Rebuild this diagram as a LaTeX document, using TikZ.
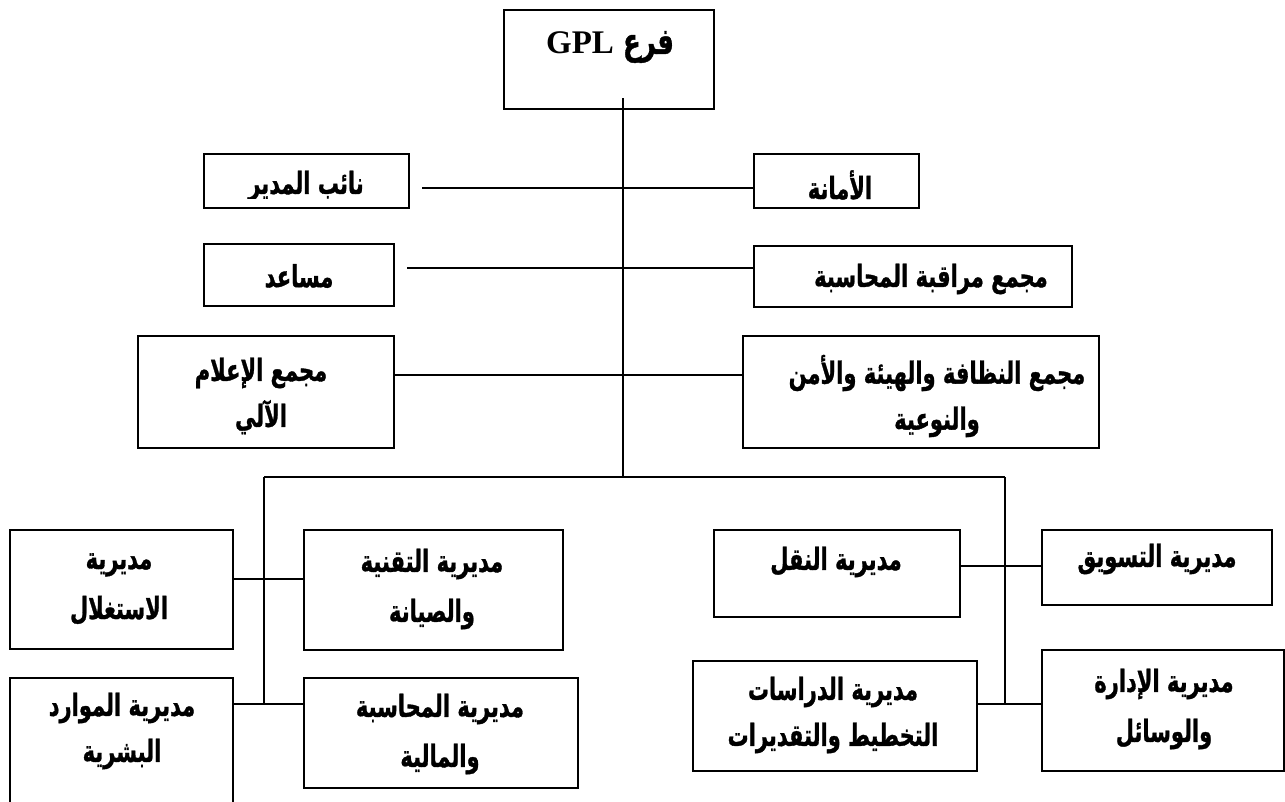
\documentclass[tikz,border=0pt]{standalone}
\usepackage{fontspec}
\usepackage{graphicx}
\newfontfamily\arabicfont[Script=Arabic,FakeBold=1.2]{DejaVu Sans Bold}
\newfontfamily\latinserif{Liberation Serif Bold}
\TeXXeTstate=1
\newcommand\AR[1]{\scalebox{1}[1.45]{\beginR #1\endR}}
\begin{document}
\begin{tikzpicture}[x=1pt,y=-1pt,
  box/.style={draw, line width=1.8pt, inner sep=0pt, anchor=north west},
  lab/.style={font=\arabicfont\fontsize{21}{46}\selectfont, align=center, inner sep=0pt},
  wide/.style={font=\arabicfont\fontsize{21}{50}\selectfont},
  conn/.style={line width=1.6pt}]
\useasboundingbox (0,0) rectangle (1285,801);
\clip (0,0) rectangle (1285,801);
% boxes
\node[box, minimum width=210pt, minimum height=99pt] (top) at (503,9) {};
\node[box, minimum width=205pt, minimum height=54pt] (naib) at (203,153) {};
\node[box, minimum width=165pt, minimum height=54pt] (amana) at (753,153) {};
\node[box, minimum width=190pt, minimum height=62pt] (musaid) at (203,243) {};
\node[box, minimum width=318pt, minimum height=61pt] (muraqaba) at (753,245) {};
\node[box, minimum width=256pt, minimum height=112pt] (ilam) at (137,335) {};
\node[box, minimum width=356pt, minimum height=112pt] (nadh) at (742,335) {};
\node[box, minimum width=223pt, minimum height=119pt] (istighlal) at (9,529) {};
\node[box, minimum width=259pt, minimum height=120pt] (taqniya) at (303,529) {};
\node[box, minimum width=223pt, minimum height=150pt] (mawarid) at (9,677) {};
\node[box, minimum width=274pt, minimum height=110pt] (muhasaba) at (303,677) {};
\node[box, minimum width=246pt, minimum height=87pt] (naql) at (713,529) {};
\node[box, minimum width=284pt, minimum height=110pt] (dirasat) at (692,660) {};
\node[box, minimum width=230pt, minimum height=75pt] (taswiq) at (1041,529) {};
\node[box, minimum width=242pt, minimum height=121pt] (idara) at (1041,649) {};
% connectors
\coordinate (mtop) at (623,98);
\coordinate (bus) at (623,477);
\draw[conn] (mtop) -- (bus);
\coordinate (r1) at (422,188);
\draw[conn] (r1) -- (r1 -| amana.west);
\coordinate (r2) at (407,268);
\draw[conn] (r2) -- (r2 -| muraqaba.west);
\coordinate (r3) at (623,375);
\draw[conn] (r3 -| ilam.east) -- (r3 -| nadh.west);
\coordinate (bl) at (264,477);
\coordinate (br) at (1005,477);
\draw[conn] (bl) -- (br);
\coordinate (blb) at (264,704);
\coordinate (brb) at (1005,704);
\draw[conn] (bl) -- (blb);
\draw[conn] (br) -- (brb);
\coordinate (la) at (264,579);
\draw[conn] (la -| istighlal.east) -- (la -| taqniya.west);
\draw[conn] (blb -| mawarid.east) -- (blb -| muhasaba.west);
\coordinate (ra) at (1005,566);
\draw[conn] (ra -| naql.east) -- (ra -| taswiq.west);
\draw[conn] (brb -| dirasat.east) -- (brb -| idara.west);
% texts
\node[lab, font=\arabicfont\fontsize{26}{36}\selectfont] (ttop) at (610,47) {{\latinserif\fontsize{33}{36}\selectfont GPL} \scalebox{1}[1.4]{\beginR فرع\endR}};
\begin{scope}
\clip (203,150) rectangle (408,198);
\node[lab] (tnaib) at (306,186) {\AR{نائب المدير}};
\end{scope}
\node[lab] (tamana) at (840,185) {\AR{الأمانة}};
\node[lab] (tmusaid) at (299,276) {\AR{مساعد}};
\node[lab] (tmuraqaba) at (931,279) {\AR{مجمع مراقبة المحاسبة}};
\node[lab] (tilam) at (261,396) {\AR{مجمع الإعلام}\\\AR{الآلي}};
\node[lab] (tnadh) at (937,396) {\AR{مجمع النظافة والهيئة والأمن}\\\AR{والنوعية}};
\node[lab, wide] (tistighlal) at (119,589) {\AR{مديرية}\\\AR{الاستغلال}};
\node[lab, wide] (ttaqniya) at (432,589) {\AR{مديرية التقنية}\\\AR{والصيانة}};
\node[lab] (tmawarid) at (122,731) {\AR{مديرية الموارد}\\\AR{البشرية}};
\node[lab, wide] (tmuhasaba) at (440,734) {\AR{مديرية المحاسبة}\\\AR{والمالية}};
\node[lab] (tnaql) at (836,562) {\AR{مديرية النقل}};
\node[lab] (ttaswiq) at (1157,559) {\AR{مديرية التسويق}};
\node[lab] (tdirasat) at (833,715) {\AR{مديرية الدراسات}\\\AR{التخطيط والتقديرات}};
\node[lab, wide] (tidara) at (1164,709) {\AR{مديرية الإدارة}\\\AR{والوسائل}};
\end{tikzpicture}
\end{document}
